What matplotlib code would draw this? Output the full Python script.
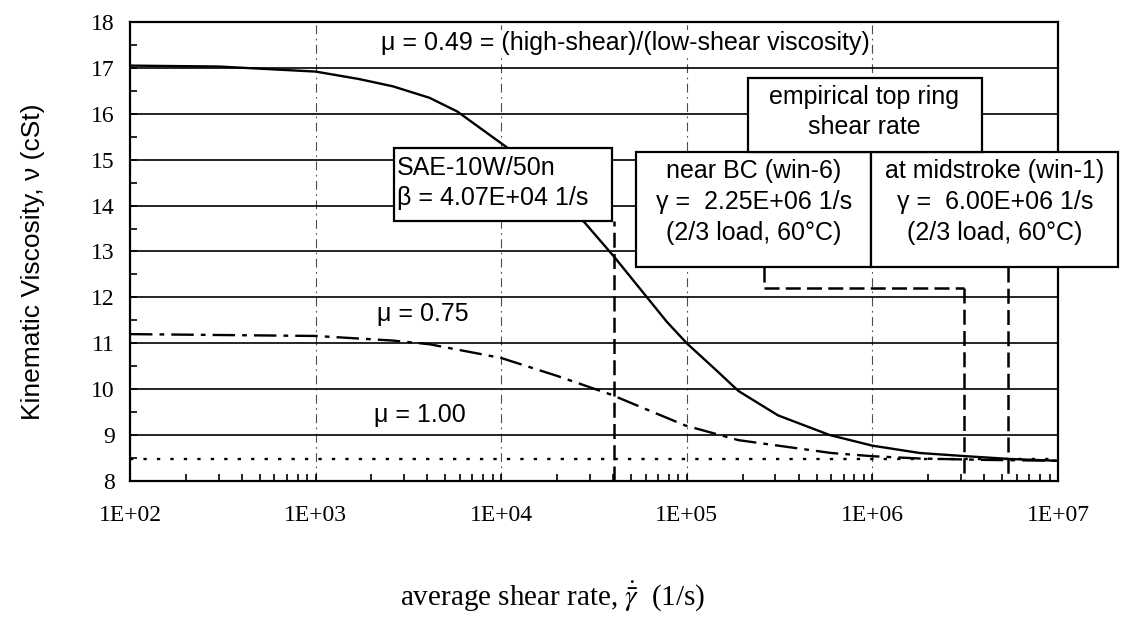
import matplotlib
matplotlib.use("Agg")
import matplotlib.pyplot as plt
from matplotlib.patches import Rectangle
from matplotlib.ticker import LogLocator, NullFormatter, FixedLocator, FixedFormatter, MultipleLocator

plt.rcParams['mathtext.fontset'] = 'stix'

# ---------------- data ----------------
shear_mu049 = [1e2, 3e2, 1e3, 1.7e3, 2.6e3, 4.1e3, 5.8e3, 1.08e4, 1.7e4, 2.83e4,
               4.07e4, 7.8e4, 1e5, 1.4e5, 1.9e5, 3.1e5, 5.9e5, 1e6, 1.8e6, 3.2e6, 5.5e6, 1e7]
visc_mu049 = [17.05, 17.03, 16.92, 16.76, 16.6, 16.35, 16.05, 15.26, 14.55, 13.62,
              12.88, 11.47, 11.0, 10.46, 9.96, 9.43, 9.0, 8.77, 8.61, 8.54, 8.48, 8.44]

shear_mu075 = [1e2, 1e3, 2.6e3, 4.1e3, 1e4, 2e4, 3.86e4, 9.8e4, 1.9e5, 6e5, 1e6, 1.8e6, 4e6, 1e7]
visc_mu075 = [11.2, 11.16, 11.06, 10.98, 10.68, 10.29, 9.89, 9.21, 8.89, 8.61, 8.54, 8.49, 8.46, 8.44]

shear_mu100 = [1e2, 1e7]
visc_mu100 = [8.48, 8.48]

beta_shear = 4.07e4          # SAE-10W/50n beta
ring_shear_bc = 3.1e6        # near BC marker line
ring_shear_mid = 5.4e6       # midstroke marker line
connector_shear = 2.6e5      # start of dashed connector under "near BC" box
connector_visc = 12.21       # level of dashed connector

xtick_vals = [1e2, 1e3, 1e4, 1e5, 1e6, 1e7]
xtick_labels = ["1E+02", "1E+03", "1E+04", "1E+05", "1E+06", "1E+07"]
ytick_vals = [8, 9, 10, 11, 12, 13, 14, 15, 16, 17, 18]
ytick_labels = [str(v) for v in ytick_vals]

title_text = "\u03bc = 0.49 = (high-shear)/(low-shear viscosity)"
label_mu075 = "\u03bc = 0.75"
label_mu100 = "\u03bc = 1.00"
sae_text = "SAE-10W/50n\n\u03b2 = 4.07E+04 1/s"
emp_text = "empirical top ring\nshear rate"
bc_text = "near BC (win-6)\n\u03b3 =  2.25E+06 1/s\n(2/3 load, 60\u00b0C)"
mid_text = "at midstroke (win-1)\n\u03b3 =  6.00E+06 1/s\n(2/3 load, 60\u00b0C)"

# ---------------- figure ----------------
W, H = 1123, 625
fig = plt.figure(figsize=(W / 100, H / 100), dpi=100)
ax_l, ax_r, ax_t, ax_b = 130, 1058, 22, 481
ax = fig.add_axes([ax_l / W, 1 - ax_b / H, (ax_r - ax_l) / W, (ax_b - ax_t) / H])

ax.set_xscale('log')
ax.set_xlim(xtick_vals[0], xtick_vals[-1])
ax.set_ylim(ytick_vals[0], ytick_vals[-1])

serif = 'Liberation Serif'
sans = 'Liberation Sans'

ax.xaxis.set_major_locator(FixedLocator(xtick_vals))
ax.xaxis.set_major_formatter(FixedFormatter(xtick_labels))
ax.xaxis.set_minor_locator(LogLocator(base=10, subs=range(2, 10), numticks=20))
ax.xaxis.set_minor_formatter(NullFormatter())
ax.yaxis.set_major_locator(FixedLocator(ytick_vals))
ax.yaxis.set_major_formatter(FixedFormatter(ytick_labels))
ax.yaxis.set_minor_locator(MultipleLocator(0.5))

ax.tick_params(axis='both', which='both', direction='in', width=1.2, color='black',
               labelsize=17, labelfontfamily=serif)
ax.tick_params(axis='both', which='major', length=5)
ax.tick_params(axis='both', which='minor', length=5)
ax.tick_params(axis='x', which='major', pad=17)
ax.tick_params(axis='y', which='major', pad=10.8)
ax.tick_params(top=False, right=False, which='both')

for s in ax.spines.values():
    s.set_linewidth(1.6)
    s.set_color('black')

# grid
ax.grid(axis='y', which='major', color='black', linewidth=1.2, linestyle='-', zorder=1)
ax.grid(axis='x', which='major', color='0.3', linewidth=0.8, linestyle=(0, (8, 4, 1.5, 4)), zorder=1)
ax.set_axisbelow(True)

# curves
ax.plot(shear_mu049, visc_mu049, color='black', lw=1.7, zorder=3)
ax.plot(shear_mu075, visc_mu075, color='black', lw=1.7, linestyle=(0, (9.5, 3, 2, 3)), zorder=3)
ax.plot(shear_mu100, visc_mu100, color='black', lw=1.7, linestyle=(0, (1.4, 4.3)), zorder=3)

# ---------------- annotation boxes (axes fractions) ----------------
def axfx(px):
    return (px - ax_l) / (ax_r - ax_l)

def axfy(py):
    return (ax_b - py) / (ax_b - ax_t)

boxes = {
    'sae': (axfx(394), axfy(221), axfx(612), axfy(148)),
    'bc': (axfx(636), axfy(267), axfx(871), axfy(152)),
    'mid': (axfx(871), axfy(267), axfx(1118), axfy(152)),
    'emp': (axfx(748), axfy(152), axfx(982), axfy(78)),
}
for key, (x0, y0, x1, y1) in boxes.items():
    ax.add_patch(Rectangle((x0, y0), x1 - x0, y1 - y0, transform=ax.transAxes,
                           facecolor='white', edgecolor='black', lw=1.6,
                           zorder=5, clip_on=False))

tkw = dict(transform=ax.transAxes, family=sans, fontsize=18, zorder=6,
           linespacing=1.35, clip_on=False)
ax.text(axfx(397), axfy(183), sae_text, ha='left', va='center', **tkw)
ax.text(axfx(754), axfy(202), bc_text, ha='center', va='center', **tkw)
ax.text(axfx(995), axfy(202), mid_text, ha='center', va='center', **tkw)
ax.text(axfx(864), axfy(112), emp_text, ha='center', va='center', **tkw)

ax.text(axfx(625), axfy(43), title_text, ha='center', va='center',
        transform=ax.transAxes, family=sans, fontsize=18, zorder=4,
        bbox=dict(facecolor='white', edgecolor='none', pad=0.5))
ax.text(axfx(423), axfy(314), label_mu075, ha='center', va='center',
        transform=ax.transAxes, family=sans, fontsize=18, zorder=4)
ax.text(axfx(420), axfy(415), label_mu100, ha='center', va='center',
        transform=ax.transAxes, family=sans, fontsize=18, zorder=4)

# ---------------- dashed marker lines (data coords) ----------------
y0, y1 = ax.get_ylim()
sae_bottom = y0 + boxes['sae'][1] * (y1 - y0)
bc_bottom = y0 + boxes['bc'][1] * (y1 - y0)
dkw = dict(color='black', lw=1.8, linestyle=(0, (6, 2.5)), zorder=4)
ax.plot([beta_shear, beta_shear], [y0, sae_bottom], **dkw)
ax.plot([connector_shear, connector_shear], [bc_bottom, connector_visc], **dkw)
ax.plot([connector_shear, ring_shear_bc], [connector_visc, connector_visc], **dkw)
ax.plot([ring_shear_bc, ring_shear_bc], [connector_visc, y0], **dkw)
ax.plot([ring_shear_mid, ring_shear_mid], [bc_bottom, y0], **dkw)

# ---------------- axis labels ----------------
ax.set_xlabel(r"average shear rate, $\dot{\bar{\gamma}}$  (1/s)", family=serif,
              fontsize=21, va='center', ha='center')
ax.xaxis.set_label_coords(axfx(553), axfy(597))
ax.set_ylabel("Kinematic Viscosity, \u03bd (cSt)", family=sans, fontsize=19,
              va='center', ha='center')
ax.yaxis.set_label_coords(axfx(33), axfy(262))

fig.savefig("out.png", dpi=100, facecolor='white')
